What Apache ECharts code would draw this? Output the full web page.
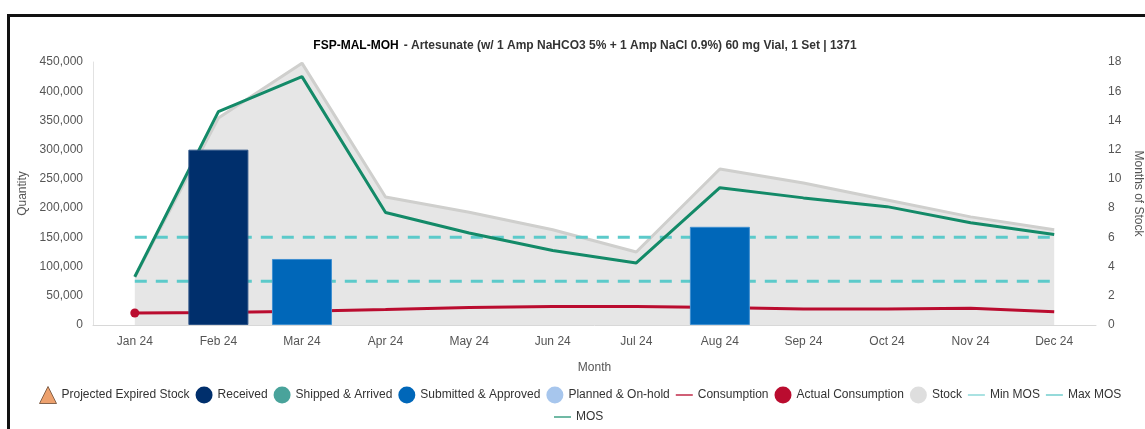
<!DOCTYPE html>
<html>
<head>
<meta charset="utf-8">
<script src="https://cdn.jsdelivr.net/npm/echarts@6/dist/echarts.min.js"></script>
<style>
  html, body { margin: 0; padding: 0; background: #fff; }
  #frame { position: absolute; left: 7px; top: 14px; width: 1200px; height: 500px;
           border-left: 3px solid #111; border-top: 3px solid #111; box-sizing: border-box; }
  #chart { position: absolute; left: 0; top: 0; width: 1145px; height: 429px; }
</style>
</head>
<body>
<div id="frame"></div>
<div id="chart"></div>
<script>
// Monthly supply plan for one product
const months = ['Jan 24', 'Feb 24', 'Mar 24', 'Apr 24', 'May 24', 'Jun 24',
                'Jul 24', 'Aug 24', 'Sep 24', 'Oct 24', 'Nov 24', 'Dec 24'];
const projectedExpired = [null, null, null, null, null, null, null, null, null, null, null, null];
const received = [null, 300000, null, null, null, null, null, null, null, null, null, null];
const shippedArrived = [null, null, null, null, null, null, null, null, null, null, null, null];
const submittedApproved = [null, null, 113000, null, null, null, null, 168000, null, null, null, null];
const plannedOnHold = [null, null, null, null, null, null, null, null, null, null, null, null];
const consumption = [20500, 21500, 23500, 26500, 30000, 31500, 31500, 30000, 27500, 27500, 28500, 22500];
const actualConsumption = [20500, null, null, null, null, null, null, null, null, null, null, null];
const stock = [82000, 354000, 448000, 219000, 193000, 163000, 125000, 267000, 243000, 214000, 185000, 163000];
const minMos = [3, 3, 3, 3, 3, 3, 3, 3, 3, 3, 3, 3];
const maxMos = [6, 6, 6, 6, 6, 6, 6, 6, 6, 6, 6, 6];
const mos = [3.3, 14.6, 17.0, 7.7, 6.3, 5.1, 4.25, 9.4, 8.7, 8.1, 7.0, 6.2];

const FONT = '"Liberation Sans", Arial, sans-serif';
const C = {
  expired: '#e8894a', received: '#002f6c', shipped: '#49a39b', submitted: '#0067b9',
  planned: '#a7c6ed', consumption: '#ba0c2f', stockFill: '#e6e6e6', stockLine: '#cfcfcd',
  mosLimit: '#5ccaca', mos: '#138a68'
};
// thin horizontal bar used as the legend mark for line series
const LINE_ICON = 'path://M0,0H14V1.6H0Z';

const legendBase = {
  itemWidth: 17, itemHeight: 17, itemGap: 6,
  textStyle: { fontFamily: FONT, fontSize: 12, color: '#333' }
};

const chart = echarts.init(document.getElementById('chart'), null, { renderer: 'canvas' });

chart.setOption({
  animation: false,
  backgroundColor: 'transparent',
  textStyle: { fontFamily: FONT },
  title: {
    text: '{a|FSP-MAL-MOH} {b|- Artesunate (w/ 1 Amp NaHCO3 5% + 1 Amp NaCl 0.9%) 60 mg Vial, 1 Set | 1371}',
    left: 580, top: 32, textAlign: 'center',
    textStyle: {
      rich: {
        a: { fontFamily: FONT, fontSize: 12, fontWeight: 'bold', color: '#000' },
        b: { fontFamily: FONT, fontSize: 12, fontWeight: 'bold', color: '#333' }
      }
    }
  },
  grid: { left: 93, right: 49, top: 62, bottom: 104, containLabel: false, outerBoundsMode: 'none' },
  legend: [
    Object.assign({}, legendBase, {
      left: 34, top: 381,
      data: [
        { name: 'Projected Expired Stock', icon: 'triangle', itemStyle: { color: C.expired, borderColor: '#6b4a33', borderWidth: 1 } },
        { name: 'Received', icon: 'circle', itemStyle: { borderWidth: 0 } },
        { name: 'Shipped & Arrived', icon: 'circle' },
        { name: 'Submitted & Approved', icon: 'circle', itemStyle: { borderWidth: 0 } },
        { name: 'Planned & On-hold', icon: 'circle' },
        { name: 'Consumption', icon: LINE_ICON, itemStyle: { color: '#cf5a72' } },
        { name: 'Actual Consumption', icon: 'circle' },
        { name: 'Stock', icon: 'circle', itemStyle: { color: '#dedede' } },
        { name: 'Min MOS', icon: LINE_ICON, itemStyle: { color: '#a8e2e2' } },
        { name: 'Max MOS', icon: LINE_ICON, itemStyle: { color: '#92d9d9' } }
      ]
    }),
    Object.assign({}, legendBase, {
      left: 549, top: 406,
      data: [{ name: 'MOS', icon: LINE_ICON, itemStyle: { color: '#6cb7a2' } }]
    })
  ],
  xAxis: {
    type: 'category', data: months, boundaryGap: true,
    name: 'Month', nameLocation: 'middle', nameGap: 37,
    nameTextStyle: { fontFamily: FONT, fontSize: 12, color: '#555' },
    axisLine: { lineStyle: { color: '#d8d8d8' } },
    axisTick: { show: false },
    axisLabel: { fontFamily: FONT, fontSize: 12, color: '#555', margin: 11 }
  },
  yAxis: [
    {
      type: 'value', min: 0, max: 450000, interval: 50000,
      name: 'Quantity', nameLocation: 'middle', nameGap: 64, nameRotate: 90,
      nameTextStyle: { fontFamily: FONT, fontSize: 12, color: '#555' },
      axisLine: { show: true, lineStyle: { color: '#e2e2e2' } },
      axisTick: { show: false },
      splitLine: { show: false },
      axisLabel: {
        fontFamily: FONT, fontSize: 12, color: '#555', margin: 10,
        formatter: v => v.toLocaleString('en-US')
      }
    },
    {
      type: 'value', min: 0, max: 18, interval: 2, position: 'right',
      name: 'Months of Stock', nameLocation: 'middle', nameGap: 34, nameRotate: -90,
      nameTextStyle: { fontFamily: FONT, fontSize: 12, color: '#555' },
      axisLine: { show: false },
      axisTick: { show: false },
      splitLine: { show: false },
      axisLabel: { fontFamily: FONT, fontSize: 12, color: '#555', margin: 12 }
    }
  ],
  series: [
    {
      name: 'Stock', type: 'line', data: stock, z: 1,
      symbol: 'none', itemStyle: { color: C.stockLine },
      lineStyle: { color: C.stockLine, width: 3 },
      areaStyle: { color: C.stockFill, opacity: 1 }
    },
    {
      name: 'Consumption', type: 'line', data: consumption, z: 2,
      symbol: 'none', itemStyle: { color: C.consumption },
      lineStyle: { color: C.consumption, width: 3 }
    },
    {
      name: 'Actual Consumption', type: 'line', data: actualConsumption, z: 3,
      symbol: 'circle', symbolSize: 9, showSymbol: true,
      itemStyle: { color: C.consumption }, lineStyle: { color: C.consumption, width: 3 }
    },
    {
      name: 'Min MOS', type: 'line', yAxisIndex: 1, data: minMos, z: 2,
      symbol: 'none', itemStyle: { color: C.mosLimit },
      lineStyle: { color: C.mosLimit, width: 3, type: [12, 9] }
    },
    {
      name: 'Max MOS', type: 'line', yAxisIndex: 1, data: maxMos, z: 2,
      symbol: 'none', itemStyle: { color: C.mosLimit },
      lineStyle: { color: C.mosLimit, width: 3, type: [12, 9] }
    },
    {
      name: 'MOS', type: 'line', yAxisIndex: 1, data: mos, z: 2,
      symbol: 'none', itemStyle: { color: C.mos },
      lineStyle: { color: C.mos, width: 3 }
    },
    {
      name: 'Projected Expired Stock', type: 'scatter', data: projectedExpired, z: 4,
      symbol: 'triangle', itemStyle: { color: C.expired }
    },
    {
      name: 'Received', type: 'bar', stack: 'supply', data: received, z: 5, barWidth: 60,
      itemStyle: { color: C.received, borderColor: '#2d5487', borderWidth: 1 }
    },
    {
      name: 'Shipped & Arrived', type: 'bar', stack: 'supply', data: shippedArrived, z: 5, barWidth: 60,
      itemStyle: { color: C.shipped }
    },
    {
      name: 'Submitted & Approved', type: 'bar', stack: 'supply', data: submittedApproved, z: 5, barWidth: 60,
      itemStyle: { color: C.submitted, borderColor: '#3f8fd0', borderWidth: 1 }
    },
    {
      name: 'Planned & On-hold', type: 'bar', stack: 'supply', data: plannedOnHold, z: 5, barWidth: 60,
      itemStyle: { color: C.planned }
    }
  ]
});
</script>
</body>
</html>
